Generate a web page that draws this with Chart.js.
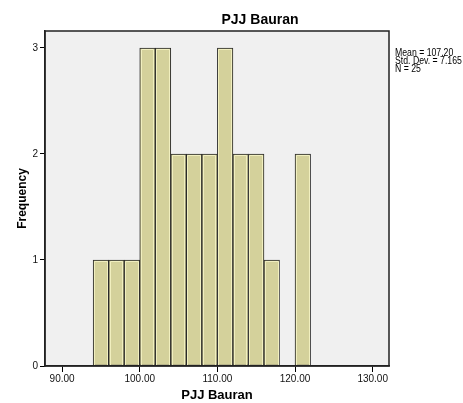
<!DOCTYPE html>
<html>
<head>
<meta charset="utf-8">
<script src="https://cdn.jsdelivr.net/npm/chart.js@4"></script>
<style>
  html, body { margin: 0; padding: 0; background: #fff; }
  #wrap { width: 463px; height: 403px; }
</style>
</head>
<body>
<div id="wrap"><canvas id="c" width="463" height="403"></canvas></div>
<script>
// Data
const binStarts = [94, 96, 98, 100, 102, 104, 106, 108, 110, 112, 114, 116, 118, 120];
const binWidth = 2;
const counts    = [1, 1, 1, 3, 3, 2, 2, 2, 3, 2, 2, 1, 0, 2];
const xTickValues = [90, 100, 110, 120, 130];
const yTickValues = [0, 1, 2, 3];
const chartTitle = 'PJJ Bauran';
const xTitle = 'PJJ Bauran';
const yTitle = 'Frequency';
const statsLines = ['Mean = 107.20', 'Std. Dev. = 7.165', 'N = 25'];

const FONT = '"Liberation Sans", Arial, sans-serif';

const points = binStarts.map((s, i) => ({ x: s + binWidth / 2, y: counts[i] === 0 ? null : counts[i] }));

const decorPlugin = {
  id: 'decor',
  beforeDraw(chart) {
    const { ctx, chartArea: a } = chart;
    ctx.save();
    ctx.fillStyle = '#f0f0f0';
    ctx.fillRect(a.left, a.top, a.right - a.left, a.bottom - a.top);
    ctx.restore();
  },
  afterDatasetsDraw(chart) {
    const { ctx } = chart;
    const meta = chart.getDatasetMeta(0);
    ctx.save();
    ctx.strokeStyle = '#f1efbf';
    ctx.lineWidth = 1;
    meta.data.forEach((el, i) => {
      if (points[i].y == null) return;
      const p = el.getProps(['x', 'y', 'base', 'width'], true);
      const l = Math.round(p.x - p.width / 2) + 1.5;
      const r = Math.round(p.x + p.width / 2) - 1.5;
      const t = Math.round(p.y) + 1.5;
      const b = Math.round(p.base) - 1;
      ctx.beginPath();
      ctx.moveTo(l, b); ctx.lineTo(l, t); ctx.lineTo(r, t); ctx.lineTo(r, b);
      ctx.stroke();
    });
    ctx.restore();
  },
  afterDraw(chart) {
    const { ctx, chartArea: a } = chart;
    ctx.save();
    ctx.strokeStyle = '#222';
    ctx.lineWidth = 1.5;
    ctx.strokeRect(a.left, a.top, a.right - a.left, a.bottom - a.top);
    // Title
    ctx.fillStyle = '#000';
    ctx.font = 'bold 14px ' + FONT;
    ctx.textAlign = 'center';
    ctx.textBaseline = 'middle';
    ctx.fillText(chartTitle, 260, 20);
    // Stats (slightly condensed, like the original)
    ctx.font = '10px ' + FONT;
    ctx.textAlign = 'left';
    ctx.translate(395, 0);
    ctx.scale(0.87, 1);
    statsLines.forEach((s, i) => ctx.fillText(s, 0, 53 + i * 8.3));
    ctx.restore();
  }
};

new Chart(document.getElementById('c'), {
  type: 'bar',
  data: {
    datasets: [{
      data: points,
      backgroundColor: '#d4d19b',
      borderColor: '#2a2a2a',
      borderWidth: 1,
      borderSkipped: false,
      barPercentage: 1,
      categoryPercentage: 1
    }]
  },
  options: {
    responsive: false,
    animation: false,
    devicePixelRatio: 1,
    layout: { padding: { left: 0, right: 74, top: 31, bottom: 0 } },
    plugins: { legend: { display: false }, tooltip: { enabled: false }, title: { display: false } },
    scales: {
      x: {
        type: 'linear',
        offset: false,
        min: 87.8,
        max: 132.1,
        afterBuildTicks: (s) => { s.ticks = xTickValues.map(v => ({ value: v })); },
        afterFit: (s) => { s.height = 37; },
        ticks: {
          callback: (v) => Number(v).toFixed(2),
          font: { family: FONT, size: 10 },
          color: '#111',
          padding: 1,
          maxRotation: 0,
          autoSkip: false
        },
        grid: { display: true, offset: false, drawOnChartArea: false, drawTicks: true, tickLength: 6, color: '#000' },
        border: { display: true, color: '#222', width: 1.5 },
        title: { display: true, text: xTitle, font: { family: FONT, size: 13, weight: 'bold' }, color: '#000', padding: { top: -1, bottom: 0 } }
      },
      y: {
        type: 'linear',
        min: 0,
        max: 3.16,
        afterBuildTicks: (s) => { s.ticks = yTickValues.map(v => ({ value: v })); },
        afterFit: (s) => { s.width = 45; },
        ticks: {
          font: { family: FONT, size: 10 },
          color: '#111',
          padding: 2
        },
        grid: { display: true, drawOnChartArea: false, drawTicks: true, tickLength: 5, color: '#000' },
        border: { display: true, color: '#222', width: 1.5 },
        title: { display: true, text: yTitle, font: { family: FONT, size: 12, weight: 'bold' }, color: '#000', padding: { top: 15, bottom: 0 } }
      }
    }
  },
  plugins: [decorPlugin]
});
</script>
</body>
</html>
